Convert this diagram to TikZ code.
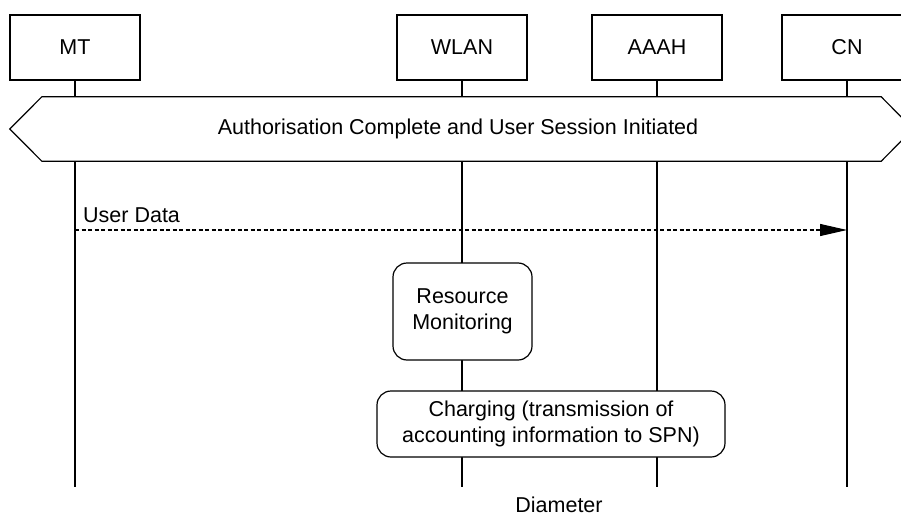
\documentclass[tikz,border=0pt]{standalone}
\usepackage{fontspec}
\setmainfont{Liberation Sans}
\usetikzlibrary{arrows.meta}
\begin{document}
\begin{tikzpicture}[x=1pt,y=-1pt,
  every node/.style={font=\fontsize{21.5}{25.5}\selectfont, inner sep=0pt},
  entity/.style={draw, line width=1.2pt, fill=white, minimum width=130pt, minimum height=65pt},
  lifeline/.style={line width=1.2pt},
  procbox/.style={draw, line width=1.2pt, fill=white, rounded corners=14pt, align=center},
  msg/.style={line width=1.1pt, dash pattern=on 4pt off 2.5pt, -{Triangle[length=27pt,width=12pt]}}]
\useasboundingbox (0,0) rectangle (901,516);

% entities
\node[entity] (MT)   at (75,47.5)  {MT};
\node[entity] (WLAN) at (462,47.5) {WLAN};
\node[entity] (AAAH) at (657,47.5) {AAAH};
\node[entity] (CN)   at (847,47.5) {CN};

% lifeline ends
\coordinate (MTend)   at (75,487);
\coordinate (WLANend) at (462,487);
\coordinate (AAAHend) at (657,487);
\coordinate (CNend)   at (847,487);
\draw[lifeline] (MT.south) -- (MTend);
\draw[lifeline] (WLAN.south) -- (WLANend);
\draw[lifeline] (AAAH.south) -- (AAAHend);
\draw[lifeline] (CN.south) -- (CNend);

% session banner (hexagon)
\node[minimum width=839pt, minimum height=64pt] (auth) at (461.5,129) {};
\filldraw[fill=white, line width=1.2pt]
  (auth.north west) -- ([xshift=-32pt]auth.west) -- (auth.south west)
  -- (auth.south east) -- ([xshift=32pt]auth.east) -- (auth.north east) -- cycle;
\node (authtext) at (458,129) {Authorisation Complete and User Session Initiated};

% user data
\coordinate (ud1) at (75,230);
\coordinate (ud2) at (847,230);
\draw[msg] (ud1) -- (ud2);
\node[anchor=base west] (udl) at (83,222) {User Data};

% procedures
\node[procbox, minimum width=139pt, minimum height=97pt] (res) at (462.5,311.5)
  {Resource\\Monitoring};
\node[procbox, minimum width=348pt, minimum height=66pt] (chg) at (551,424)
  {Charging (transmission of\\accounting information to SPN)};

\node (dia) at (559,505) {Diameter};
\end{tikzpicture}
\end{document}
